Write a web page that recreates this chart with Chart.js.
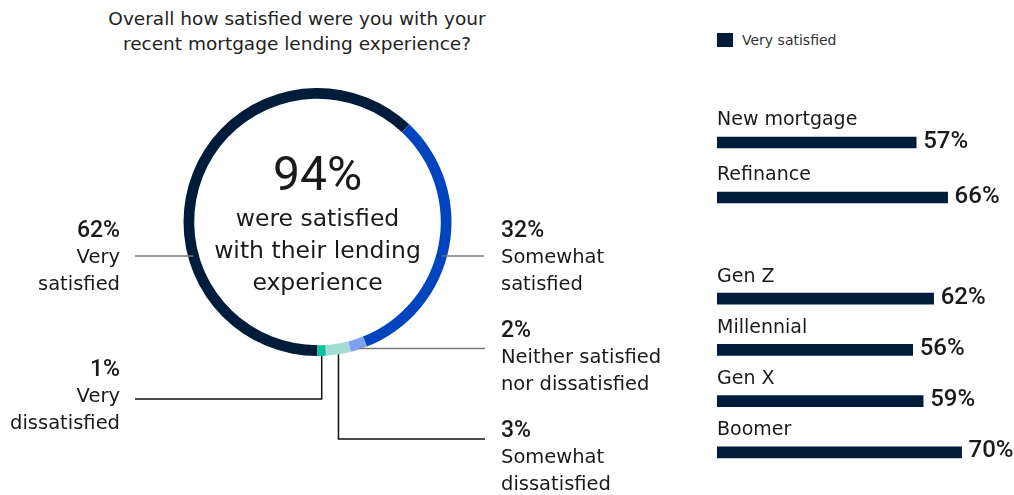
<!DOCTYPE html>
<html>
<head>
<meta charset="utf-8">
<script src="https://cdn.jsdelivr.net/npm/chart.js@4.4.1/dist/chart.umd.min.js"></script>
<style>
  body { margin: 0; background: #fff; font-family: "DejaVu Sans", sans-serif; }
  #wrap { position: relative; width: 1014px; height: 495px; overflow: hidden; }
  #wrap canvas { position: absolute; }
  #title { position: absolute; left: 47px; top: 6px; width: 500px; text-align: center;
           font-size: 18.5px; line-height: 25px; color: #222; }
  #legend { position: absolute; left: 717px; top: 31px; font-size: 14px; color: #333;
            line-height: 18px; }
  #legend span { display: inline-block; width: 16px; height: 14px; background: #001c3b;
                 vertical-align: -2px; margin-right: 9px; }
</style>
</head>
<body>
<div id="wrap">
  <div id="title">Overall how satisfied were you with your<br>recent mortgage lending experience?</div>
  <div id="legend"><span></span>Very satisfied</div>
  <canvas id="ring" style="left:0;top:0" width="700" height="495"></canvas>
  <canvas id="typeBars" style="left:717px;top:100px" width="297" height="140"></canvas>
  <canvas id="genBars" style="left:717px;top:255px" width="297" height="240"></canvas>
</div>
<script>
// Satisfaction split, read clockwise from the bottom of the ring
const ringLabels = [
  ['Very', 'satisfied'],
  ['Somewhat', 'satisfied'],
  ['Neither satisfied', 'nor dissatisfied'],
  ['Somewhat', 'dissatisfied'],
  ['Very', 'dissatisfied']
];
const ringValues = [62, 32, 2, 3, 1];
const ringColors = ['#001c3b', '#0045bf', '#7da0f5', '#a3dcd3', '#0bc39b'];

// "Very satisfied" share by loan type and by generation
const typeLabels = ['New mortgage', 'Refinance'];
const typeValues = [57, 66];
const genLabels = ['Gen Z', 'Millennial', 'Gen X', 'Boomer'];
const genValues = [62, 56, 59, 70];

const navy = '#001c3b';
const ink = '#1a1a1a';
const WORDS = '"DejaVu Sans", sans-serif';   // wide face for the wording
const NUMS = 'Roboto, sans-serif';            // narrower figures for percentages

// where each callout sits and how its leader line runs
const callouts = [
  { align: 'right', x: 120, y: 231, lead: 'side', ly: 256, to: 135, color: '#7a7a7a' },
  { align: 'left', x: 501, y: 231, lead: 'side', ly: 256, to: 484, color: '#7a7a7a' },
  { align: 'left', x: 501, y: 331, lead: 'flat', to: 485, color: '#7a7a7a' },
  { align: 'left', x: 501, y: 431, lead: 'drop', ly: 439, to: 485, color: '#111' },
  { align: 'right', x: 120, y: 370, lead: 'drop', ly: 399, to: 135, color: '#111' }
];

const ringNotes = {
  id: 'ringNotes',
  afterDraw(chart) {
    const ctx = chart.ctx;
    const arcs = chart.getDatasetMeta(0).data;
    const cx = arcs[0].x, cy = arcs[0].y;
    const rOut = arcs[0].outerRadius;
    const rMid = (arcs[0].innerRadius + rOut) / 2;
    ctx.save();

    // headline inside the ring
    const satisfied = ringValues[0] + ringValues[1];
    ctx.fillStyle = ink;
    ctx.textAlign = 'center';
    ctx.textBaseline = 'middle';
    ctx.font = '48px ' + NUMS;
    ctx.fillText(satisfied + '%', cx, 178);
    ctx.font = '23.5px ' + WORDS;
    ['were satisfied', 'with their lending', 'experience'].forEach((t, i) => {
      ctx.fillText(t, cx, 220 + i * 32);
    });

    // leader lines
    ctx.lineWidth = 1.5;
    callouts.forEach((c, i) => {
      const a = arcs[i];
      const mid = (a.startAngle + a.endAngle) / 2;
      const ax = cx + Math.cos(mid) * rOut;
      const ay = cy + Math.sin(mid) * rOut;
      ctx.strokeStyle = c.color;
      ctx.beginPath();
      if (c.lead === 'side') {
        const dx = Math.sqrt(rMid * rMid - (c.ly - cy) * (c.ly - cy));
        const rx = c.align === 'right' ? cx - dx : cx + dx;
        ctx.moveTo(rx, c.ly);
        ctx.lineTo(c.to, c.ly);
      } else if (c.lead === 'flat') {
        ctx.moveTo(ax, ay - 1);
        ctx.lineTo(c.to, ay - 1);
      } else {
        ctx.moveTo(ax, ay);
        ctx.lineTo(ax, c.ly);
        ctx.lineTo(c.to, c.ly);
      }
      ctx.stroke();

      // value and name
      ctx.fillStyle = ink;
      ctx.textAlign = c.align;
      ctx.font = '500 23px ' + NUMS;
      ctx.fillText(ringValues[i] + '%', c.x, c.y);
      ctx.font = '19.5px ' + WORDS;
      ringLabels[i].forEach((t, j) => ctx.fillText(t, c.x, c.y + 27 * (j + 1)));
    });
    ctx.restore();
  }
};

new Chart(document.getElementById('ring'), {
  type: 'doughnut',
  data: {
    labels: ringLabels.map(l => l.join(' ')),
    datasets: [{
      data: ringValues,
      backgroundColor: ringColors,
      borderWidth: 0
    }]
  },
  options: {
    responsive: false,
    animation: false,
    rotation: 180,
    cutout: '92%',
    layout: { padding: { left: 183, right: 248, top: 88, bottom: 139 } },
    plugins: { legend: { display: false }, tooltip: { enabled: false } }
  },
  plugins: [ringNotes]
});

// category name above each bar, value just past its end
const barNotes = {
  id: 'barNotes',
  afterDatasetsDraw(chart) {
    const ctx = chart.ctx;
    const meta = chart.getDatasetMeta(0);
    const left = chart.chartArea.left;
    ctx.save();
    ctx.fillStyle = ink;
    ctx.textBaseline = 'middle';
    ctx.textAlign = 'left';
    meta.data.forEach((bar, i) => {
      ctx.font = '19px ' + WORDS;
      ctx.fillText(chart.data.labels[i], left, bar.y - 22);
      ctx.font = '500 24px ' + NUMS;
      ctx.fillText(chart.data.datasets[0].data[i] + '%', bar.x + 7, bar.y - 1);
    });
    ctx.restore();
  }
};

function barChart(id, labels, values, pad) {
  return new Chart(document.getElementById(id), {
    type: 'bar',
    data: {
      labels: labels,
      datasets: [{ label: 'Very satisfied', data: values, backgroundColor: navy, barThickness: 11 }]
    },
    options: {
      indexAxis: 'y',
      responsive: false,
      animation: false,
      layout: { padding: pad },
      scales: {
        x: { display: false, min: 0, max: 85 },
        y: { display: false }
      },
      plugins: { legend: { display: false }, tooltip: { enabled: false } }
    },
    plugins: [barNotes]
  });
}

barChart('typeBars', typeLabels, typeValues, { top: 15, bottom: 15, left: 0, right: 0 });
barChart('genBars', genLabels, genValues, { top: 18, bottom: 17, left: 0, right: 0 });
</script>
</body>
</html>
